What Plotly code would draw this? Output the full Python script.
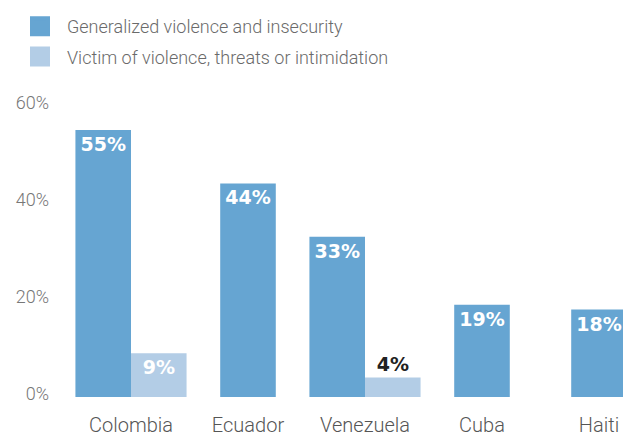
import plotly.graph_objects as go

# 資料
countries = ["Colombia", "Ecuador", "Venezuela", "Cuba", "Haiti"]
generalized = [55, 44, 33, 19, 18]
victim = [9, None, 4, None, None]
series_names = ["Generalized violence and insecurity",
                "Victim of violence, threats or intimidation"]
y_ticks = [0, 20, 40, 60]

dark_blue = "#66a5d2"
light_blue = "#b3cde6"
w = 0.475  # bar width (category units)

# 沒有第二個數值時，第一根柱子置中
off1 = [-w if v is not None else -w / 2 for v in victim]
off2 = [0 for _ in victim]

fig = go.Figure()

fig.add_trace(go.Bar(
    x=countries, y=generalized, width=w, offset=off1,
    marker=dict(color=dark_blue, line=dict(width=0)),
    text=[f"{v}%" for v in generalized],
    textposition="inside", insidetextanchor="end", textangle=0,
    insidetextfont=dict(family="DejaVu Sans", size=19, color="white", weight="bold"),
    showlegend=False,
))

fig.add_trace(go.Bar(
    x=countries, y=victim, width=w, offset=off2,
    marker=dict(color=light_blue, line=dict(width=0)),
    text=[f"{v}%" if v is not None else "" for v in victim],
    textposition=["inside" if (v or 0) >= 8 else "outside" for v in victim],
    insidetextanchor="end", textangle=0,
    insidetextfont=dict(family="DejaVu Sans", size=19, color="white", weight="bold"),
    outsidetextfont=dict(family="DejaVu Sans", size=19, color="#222222", weight="bold"),
    showlegend=False,
))

# 圖例（方塊）
for name, col, grp in zip(series_names, [dark_blue, light_blue], ["a", "b"]):
    fig.add_trace(go.Scatter(
        x=[None], y=[None], mode="markers", name=name, legendgroup=grp,
        marker=dict(symbol="square", size=16, color=col, line=dict(color=col, width=4)),
    ))

# 頁面有 8px 邊距，所以畫布縮小 8px
fig.update_layout(
    width=623, height=429,
    margin=dict(l=42, r=0, t=87, b=40),
    barmode="overlay",
    plot_bgcolor="white", paper_bgcolor="white",
    font=dict(family="Roboto", color="#666666"),
    legend=dict(
        x=-37 / 581, y=1 + 88 / 302, xanchor="left", yanchor="top",
        font=dict(family="Roboto", size=18, color="#6a6a6a", weight=300),
        itemwidth=44, tracegroupgap=4, bgcolor="rgba(0,0,0,0)",
    ),
    xaxis=dict(
        type="category", range=[-0.6923, 4.2735],
        showgrid=False, zeroline=False, showline=False, ticks="",
        tickfont=dict(family="Roboto", size=20, color="#555555", weight=300),
        ticklabelstandoff=14, automargin=False,
    ),
    yaxis=dict(
        range=[0, 62], tickvals=y_ticks, ticktext=[f"{t}%" for t in y_ticks],
        showgrid=False, zeroline=False, showline=False, ticks="",
        tickfont=dict(family="Roboto", size=18, color="#777777", weight=300),
        ticklabelshift=-3, automargin=False,
    ),
)

fig.write_html("out.html")
